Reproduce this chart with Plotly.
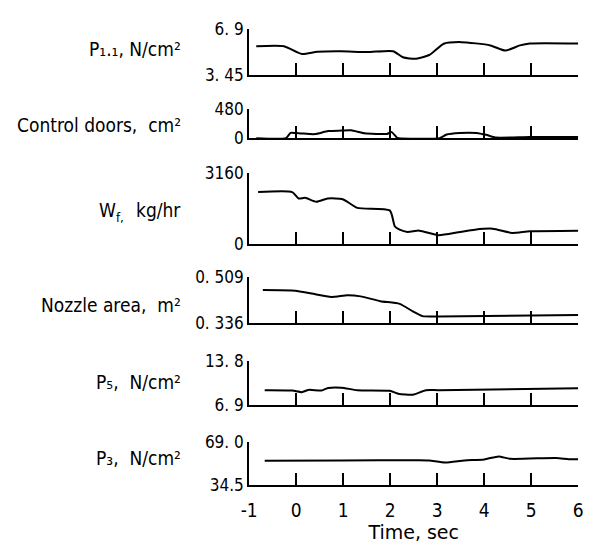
import plotly.graph_objects as go

# ---------------- data ----------------
p11_t = [-0.85, -0.26, 0.12, 0.45, 0.95, 1.51, 2.06, 2.27, 2.55, 2.83, 3.14, 3.51, 4.13, 4.45, 4.76, 4.97, 6.0]
p11_v = [5.6, 5.6, 5.01, 5.19, 5.23, 5.16, 5.23, 4.77, 4.65, 4.94, 5.80, 5.92, 5.67, 5.28, 5.67, 5.82, 5.82]

doors_t = [-0.85, -0.22, -0.12, -0.02, 0.12, 0.4, 0.68, 0.96, 1.17, 1.45, 1.93, 2.03, 2.14, 2.18, 3.05, 3.2, 3.48, 3.83, 4.04, 4.24, 4.97, 6.0]
doors_v = [0, 0, 86, 86, 77, 67, 117, 125, 130, 80, 70, 100, 10, 0, 0, 60, 86, 86, 55, 10, 20, 20]

wf_t = [-0.81, -0.085, 0.05, 0.19, 0.43, 0.67, 0.99, 1.3, 1.99, 2.1, 2.2, 2.37, 2.62, 3.03, 3.45, 3.8, 4.18, 4.59, 4.97, 6.0]
wf_v = [2306, 2306, 2020, 2050, 1878, 2020, 1990, 1606, 1494, 781, 640, 540, 597, 397, 526, 640, 683, 497, 569, 597]

noz_t = [-0.71, -0.02, 0.33, 0.75, 1.09, 1.37, 1.79, 2.2, 2.48, 2.69, 3.03, 6.0]
noz_v = [0.4595, 0.457, 0.4465, 0.434, 0.440, 0.436, 0.418, 0.408, 0.380, 0.362, 0.361, 0.366]

p5_t = [-0.67, -0.085, 0.12, 0.26, 0.54, 0.68, 0.96, 1.3, 1.99, 2.17, 2.48, 2.76, 3.03, 6.0]
p5_v = [9.2, 9.15, 8.9, 9.25, 9.15, 9.55, 9.6, 9.2, 9.1, 8.65, 8.5, 9.2, 9.2, 9.5]

p3_t = [-0.67, 0.97, 2.62, 2.83, 3.17, 3.58, 4.0, 4.31, 4.55, 5.53, 5.8, 6.0]
p3_v = [53.7, 54.0, 54.2, 54.0, 52.4, 54.0, 54.8, 57.2, 55.3, 56.0, 55.0, 55.0]

x_ticks = [-1, 0, 1, 2, 3, 4, 5, 6]

y_ranges = [[3.45, 6.9], [0, 480], [0, 3160], [0.336, 0.509], [6.9, 13.8], [34.5, 69.0]]
y_ticktext = [["3. 45", "6. 9"], ["0", "480"], ["0", "3160"], ["0. 336", "0. 509"], ["6. 9", "13. 8"], ["34.5", "69. 0"]]
y_labels = ["P\u2081.\u2081, N/cm\u00b2", "Control doors,  cm\u00b2", "kg/hr",
            "Nozzle area,  m\u00b2", "P\u2085,  N/cm\u00b2", "P\u2083,  N/cm\u00b2"]
wf_symbol = "W"
wf_subscript = "f,"
series = [(p11_t, p11_v), (doors_t, doors_v), (wf_t, wf_v), (noz_t, noz_v), (p5_t, p5_v), (p3_t, p3_v)]

# ---------------- layout (pixels) ----------------
W, H = 593, 546
panel_px = [(20, 67), (103, 133), (169, 243), (277, 325), (364, 410), (448, 493)]
label_px = [41, 119, 208, 306, 386, 465]
x_px = (246, 583)

FONT = "DejaVu Sans Condensed, DejaVu Sans, sans-serif"

fig = go.Figure()
layout = dict(
    width=W, height=H,
    margin=dict(l=0, r=0, t=0, b=0),
    paper_bgcolor="white", plot_bgcolor="white",
    showlegend=False,
    font=dict(family=FONT, size=17, color="black"),
    annotations=[],
)

for i in range(6):
    t, v = series[i]
    ptop, pbot = panel_px[i]
    n = i + 1
    xa = "xaxis" if n == 1 else f"xaxis{n}"
    ya = "yaxis" if n == 1 else f"yaxis{n}"
    xr = "x" if n == 1 else f"x{n}"
    yrf = "y" if n == 1 else f"y{n}"
    fig.add_trace(go.Scatter(x=t, y=v, mode="lines", xaxis=xr, yaxis=yrf,
                             line=dict(color="black", width=2, shape="spline", smoothing=0.6),
                             hoverinfo="skip"))
    last = (n == 6)
    layout[xa] = dict(
        domain=[x_px[0] / W, x_px[1] / W], anchor=yrf,
        range=[-1, 6], tickvals=x_ticks, ticktext=[str(k) for k in x_ticks],
        showticklabels=last, ticks="inside", ticklen=12, tickwidth=2, tickcolor="black",
        showline=True, linecolor="black", linewidth=2, showgrid=False, zeroline=False,
        tickfont=dict(size=19, family=FONT, color="black"),
    )
    if last:
        layout[xa]["ticklabelstandoff"] = 7
        layout[xa]["title"] = dict(text="Time, sec", font=dict(size=19, family="DejaVu Sans, sans-serif", color="black"), standoff=5)
    layout[ya] = dict(
        domain=[1 - pbot / H, 1 - ptop / H], anchor=xr,
        range=y_ranges[i], tickvals=y_ranges[i], ticktext=y_ticktext[i],
        ticks="inside", ticklen=9, tickwidth=2, tickcolor="black",
        showline=True, linecolor="black", linewidth=2, showgrid=False, zeroline=False,
        tickfont=dict(size=17, family=FONT, color="black"),
    )
    layout["annotations"].append(dict(
        text=y_labels[i], xref="paper", yref="paper",
        x=178 / W, y=1 - label_px[i] / H,
        xanchor="right", yanchor="middle", showarrow=False,
        font=dict(size=19, family=FONT, color="black"),
    ))

# W_f: symbol and subscript drawn as separate texts
layout["annotations"].append(dict(
    text=wf_symbol, xref="paper", yref="paper", x=111 / W, y=1 - label_px[2] / H,
    xanchor="right", yanchor="middle", showarrow=False, borderpad=0,
    font=dict(size=19, family=FONT, color="black")))
layout["annotations"].append(dict(
    text=wf_subscript, xref="paper", yref="paper", x=109 / W, y=1 - (label_px[2] + 7) / H,
    xanchor="left", yanchor="middle", showarrow=False, borderpad=0,
    font=dict(size=13, family=FONT, color="black")))

fig.update_layout(**layout)
fig.write_html("out.html")
